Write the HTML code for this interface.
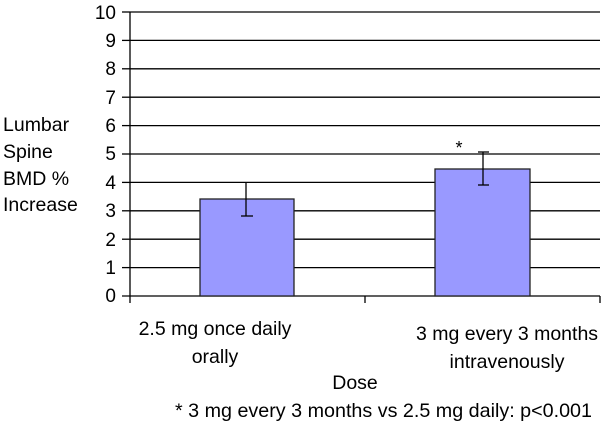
<!DOCTYPE html>
<html><head><meta charset="utf-8"><style>html,body{margin:0;padding:0;background:#fff}svg{display:block}</style></head>
<body>
<svg width="610" height="425" xmlns="http://www.w3.org/2000/svg" font-family="Liberation Sans, Arial, sans-serif" fill="#000">
<g stroke="#000" stroke-width="1.3">
<line x1="130" y1="12" x2="600" y2="12"/>
<line x1="130" y1="40.4" x2="600" y2="40.4"/>
<line x1="130" y1="68.8" x2="600" y2="68.8"/>
<line x1="130" y1="97.2" x2="600" y2="97.2"/>
<line x1="130" y1="125.6" x2="600" y2="125.6"/>
<line x1="130" y1="154" x2="600" y2="154"/>
<line x1="130" y1="182.4" x2="600" y2="182.4"/>
<line x1="130" y1="210.8" x2="600" y2="210.8"/>
<line x1="130" y1="239.2" x2="600" y2="239.2"/>
<line x1="130" y1="267.6" x2="600" y2="267.6"/>
<line x1="122" y1="296" x2="600" y2="296"/>
<line x1="130" y1="12" x2="130" y2="303"/>
<line x1="365" y1="296" x2="365" y2="303"/>
<line x1="600" y1="296" x2="600" y2="303"/>
<line x1="122" y1="12" x2="130" y2="12"/><line x1="122" y1="40.4" x2="130" y2="40.4"/><line x1="122" y1="68.8" x2="130" y2="68.8"/><line x1="122" y1="97.2" x2="130" y2="97.2"/><line x1="122" y1="125.6" x2="130" y2="125.6"/><line x1="122" y1="154" x2="130" y2="154"/><line x1="122" y1="182.4" x2="130" y2="182.4"/><line x1="122" y1="210.8" x2="130" y2="210.8"/><line x1="122" y1="239.2" x2="130" y2="239.2"/><line x1="122" y1="267.6" x2="130" y2="267.6"/>
</g>
<rect x="200" y="199" width="94" height="97" fill="#9999ff" stroke="#222" stroke-width="1.3"/>
<rect x="435" y="169" width="95" height="127" fill="#9999ff" stroke="#222" stroke-width="1.3"/>
<g stroke="#000" stroke-width="1.3">
<line x1="246" y1="183" x2="246" y2="216"/><line x1="241" y1="216" x2="253" y2="216"/>
<line x1="483" y1="152" x2="483" y2="185"/><line x1="478" y1="152" x2="489" y2="152"/><line x1="478" y1="185" x2="489" y2="185"/>
</g>
<text x="459" y="154" font-size="18" text-anchor="middle">*</text>
<g font-size="19" text-anchor="end">
<text x="116" y="19">10</text><text x="116" y="47">9</text><text x="116" y="75">8</text><text x="116" y="104">7</text><text x="116" y="132">6</text><text x="116" y="160">5</text><text x="116" y="189">4</text><text x="116" y="217">3</text><text x="116" y="246">2</text><text x="116" y="274">1</text><text x="116" y="302">0</text>
</g>
<g font-size="19.5">
<text x="3" y="131">Lumbar</text><text x="3" y="158">Spine</text><text x="3" y="185">BMD %</text><text x="3" y="211">Increase</text>
</g>
<g font-size="19.5" text-anchor="middle">
<text x="215" y="335">2.5 mg once daily</text><text x="215" y="363">orally</text>
<text x="507" y="340">3 mg every 3 months</text><text x="507" y="368">intravenously</text>
<text x="355" y="389">Dose</text>
</g>
<text x="175" y="417" font-size="19.5" textLength="417" lengthAdjust="spacingAndGlyphs">* 3 mg every 3 months vs 2.5 mg daily: p&lt;0.001</text>
</svg>
</body></html>
